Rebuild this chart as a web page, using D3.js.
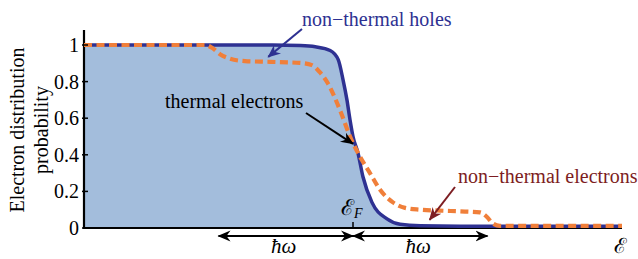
<!DOCTYPE html>
<html>
<head>
<meta charset="utf-8">
<script src="https://cdn.jsdelivr.net/npm/d3@7"></script>
<style>
  body { margin: 0; background: #fff; }
</style>
</head>
<body>
<div id="chart"></div>
<script>
'use strict';

// energy in units of hbar*omega, measured from the Fermi level
var thermalEnergy = [-2, -0.6, -0.39, -0.28, -0.17, -0.11, -0.074, -0.045, -0.022, 0, 0.037, 0.074, 0.141, 0.253, 0.35, 0.5, 0.8, 2];
var thermalProb   = [1, 1, 0.997, 0.99, 0.97, 0.92, 0.81, 0.7, 0.59, 0.5, 0.41, 0.28, 0.14, 0.05, 0.02, 0.012, 0.01, 0.01];

var nonThermalEnergy = [-2, -1.1, -1.048, -0.989, -0.914, -0.803, -0.617, -0.394, -0.305, -0.245, -0.186, -0.134, -0.089, -0.022, 0.052, 0.126, 0.2, 0.297, 0.387, 0.498, 0.647, 0.833, 0.944, 0.996, 1.04, 1.093, 2];
var nonThermalProb   = [1, 1, 0.985, 0.95, 0.925, 0.912, 0.908, 0.902, 0.89, 0.85, 0.79, 0.71, 0.63, 0.5, 0.39, 0.3, 0.21, 0.14, 0.11, 0.1, 0.095, 0.09, 0.085, 0.06, 0.025, 0.012, 0.012];

var yTicks = [0, 0.2, 0.4, 0.6, 0.8, 1];
var yTickLabels = ['0', '0.2', '0.4', '0.6', '0.8', '1'];

var width = 638, height = 259;
var serif = '"Liberation Serif", "Times New Roman", Times, serif';
var mathFont = '"DejaVu Serif", "Liberation Serif", serif';

var x = d3.scaleLinear().domain([-2, 2]).range([84, 622]);
var y = d3.scaleLinear().domain([0, 1]).range([228, 45]);

var navy = '#2e3192';
var darkRed = '#7d1d22';

var svg = d3.select('#chart').append('svg')
    .attr('width', width)
    .attr('height', height);

var defs = svg.append('defs');

function marker(id, color, size) {
  defs.append('marker')
    .attr('id', id)
    .attr('viewBox', '-12 -6 14 12')
    .attr('refX', 0)
    .attr('refY', 0)
    .attr('markerWidth', size)
    .attr('markerHeight', size)
    .attr('markerUnits', 'userSpaceOnUse')
    .attr('orient', 'auto-start-reverse')
    .append('path')
    .attr('d', 'M1,0 L-12,-5.5 L-8,0 L-12,5.5 Z')
    .attr('fill', color);
}
marker('head-black', '#000', 14);
marker('head-navy', navy, 14);
marker('head-red', darkRed, 14);

var thermal = thermalEnergy.map(function(e, i) { return [e, thermalProb[i]]; });
var nonThermal = nonThermalEnergy.map(function(e, i) { return [e, nonThermalProb[i]]; });

// filled thermal distribution
var area = d3.area()
    .x(function(d) { return x(d[0]); })
    .y0(y(0))
    .y1(function(d) { return y(d[1]); })
    .curve(d3.curveMonotoneX);

svg.append('path')
  .datum(thermal)
  .attr('d', area)
  .attr('fill', '#a3bddc');

// axes
svg.append('path')
  .attr('d', 'M' + x(-2) + ',30 V' + y(0) + ' H' + x(2))
  .attr('fill', 'none')
  .attr('stroke', '#000')
  .attr('stroke-width', 2.2);

var line = d3.line()
    .x(function(d) { return x(d[0]); })
    .y(function(d) { return y(d[1]); })
    .curve(d3.curveMonotoneX);

svg.append('path')
  .datum(thermal)
  .attr('d', line)
  .attr('fill', 'none')
  .attr('stroke', navy)
  .attr('stroke-width', 3.5);

svg.append('path')
  .datum(nonThermal)
  .attr('d', line)
  .attr('fill', 'none')
  .attr('stroke', '#f07f3a')
  .attr('stroke-width', 4.2)
  .attr('stroke-dasharray', '8,4.5');

// y ticks
var yAxis = svg.append('g');
yAxis.selectAll('line')
  .data(yTicks)
  .enter().append('line')
  .attr('x1', x(-2) - 2)
  .attr('x2', x(-2) + 4)
  .attr('y1', function(d) { return y(d); })
  .attr('y2', function(d) { return y(d); })
  .attr('stroke', '#000')
  .attr('stroke-width', 1.5);

yAxis.selectAll('text')
  .data(yTicks)
  .enter().append('text')
  .attr('x', x(-2) - 5)
  .attr('y', function(d) { return y(d) + 7; })
  .attr('text-anchor', 'end')
  .attr('font-family', serif)
  .attr('font-size', 20)
  .text(function(d, i) { return yTickLabels[i]; });

// y label
var ylab = svg.append('text')
  .attr('transform', 'translate(24,130) rotate(-90)')
  .attr('text-anchor', 'middle')
  .attr('font-family', serif)
  .attr('font-size', 20);
ylab.append('tspan').attr('x', 0).attr('dy', 0).text('Electron distribution');
ylab.append('tspan').attr('x', 0).attr('dy', 24).text('probability');

// Fermi level tick and label
svg.append('line')
  .attr('x1', x(0)).attr('x2', x(0))
  .attr('y1', y(0)).attr('y2', y(0) - 6)
  .attr('stroke', '#000')
  .attr('stroke-width', 1.5);

var ef = svg.append('text')
  .attr('x', x(0) - 12)
  .attr('y', 215)
  .attr('font-family', mathFont)
  .attr('font-size', 22);
ef.append('tspan').text('ℰ');
ef.append('tspan')
  .attr('dy', 3)
  .attr('font-family', serif)
  .attr('font-size', 14)
  .attr('font-style', 'italic')
  .text('F');

// hbar omega arrows
var hw = [[-1, 0], [0, 1]];
svg.selectAll('line.hw')
  .data(hw)
  .enter().append('line')
  .attr('class', 'hw')
  .attr('x1', function(d) { return x(d[0]); })
  .attr('x2', function(d) { return x(d[1]); })
  .attr('y1', 236).attr('y2', 236)
  .attr('stroke', '#000')
  .attr('stroke-width', 2)
  .attr('marker-start', 'url(#head-black)')
  .attr('marker-end', 'url(#head-black)');

svg.selectAll('text.hw')
  .data(hw)
  .enter().append('text')
  .attr('class', 'hw')
  .attr('x', function(d) { return x((d[0] + d[1]) / 2) - 2; })
  .attr('y', 253)
  .attr('text-anchor', 'middle')
  .attr('font-family', serif)
  .attr('font-size', 21)
  .attr('font-style', 'italic')
  .text('ħω');

svg.append('text')
  .attr('x', x(2) - 2)
  .attr('y', 253)
  .attr('text-anchor', 'middle')
  .attr('font-family', mathFont)
  .attr('font-size', 21)
  .text('ℰ');

// annotations
function note(label, color, tx, ty, from, to, head) {
  svg.append('text')
    .attr('x', tx)
    .attr('y', ty)
    .attr('fill', color)
    .attr('font-family', serif)
    .attr('font-size', 20)
    .text(label);
  svg.append('line')
    .attr('x1', from[0]).attr('y1', from[1])
    .attr('x2', to[0]).attr('y2', to[1])
    .attr('stroke', color)
    .attr('stroke-width', 2)
    .attr('marker-end', 'url(#' + head + ')');
}

note('non\u2212thermal holes', navy, 302, 26, [302, 29], [x(-0.63), y(0.935)], 'head-navy');
note('thermal electrons', '#000', 165, 108, [306, 113], [x(0), y(0.46)], 'head-black');
note('non\u2212thermal electrons', darkRed, 458, 183, [455, 187], [x(0.57), y(0.045)], 'head-red');
</script>
</body>
</html>
